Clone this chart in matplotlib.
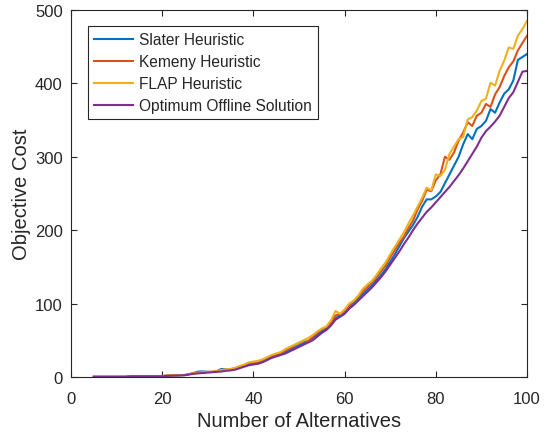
import matplotlib
matplotlib.use("Agg")
import matplotlib.pyplot as plt

plt.rcParams['font.family'] = ['Liberation Sans', 'DejaVu Sans']

alternatives = list(range(5, 101))

optimum = [0.3]*8 + [1.0]*8 + [
    1.5, 1.8, 2.0, 2.2, 2.5,
    3.5, 4.5, 5.0, 5.5, 6.0,
    6.5, 7.0, 7.5, 8.5, 9.0,
    10, 12, 14, 16, 17,
    18, 20, 23, 26, 28,
    30, 32, 35, 38, 41,
    44, 47, 50, 55, 60,
    64, 70, 78, 82, 86,
    93, 98, 104, 110, 116,
    122, 129, 136, 144, 153,
    162, 171, 181, 190, 200,
    209, 217, 225, 231, 238,
    245, 252, 259, 267, 275,
    284, 294, 304, 314, 326,
    335, 341, 348, 356, 368,
    380, 388, 402, 416, 417]

slater = [0.3]*8 + [1.0]*8 + [
    1.8, 2.0, 2.2, 2.4, 2.6,
    4.0, 5.5, 7.5, 7.5, 7.0,
    7.0, 8.0, 11.0, 10.5, 10.0,
    11, 13, 15, 17, 18,
    19, 21, 25, 28, 29,
    31, 34, 37, 40, 43,
    46, 49, 53, 58, 62,
    66, 73, 80, 84, 88,
    95, 101, 107, 113, 119,
    125, 132, 139, 147, 157,
    167, 178, 189, 198, 207,
    218, 232, 242, 242, 246,
    252, 264, 276, 288, 300,
    317, 331, 324, 338, 342,
    349, 365, 360, 374, 386,
    392, 404, 432, 436, 440]

kemeny = [0.3]*8 + [1.2]*8 + [
    2.0, 2.2, 2.4, 2.6, 2.8,
    4.0, 5.0, 6.0, 6.5, 7.0,
    7.0, 8.0, 9.0, 10.0, 10.5,
    12, 14, 16, 19, 20,
    21, 23, 26, 29, 31,
    33, 36, 39, 43, 46,
    49, 48, 55, 60, 65,
    68, 74, 84, 86, 90,
    97, 103, 109, 117, 123,
    129, 136, 144, 152, 163,
    173, 183, 191, 203, 213,
    228, 240, 255, 253, 268,
    276, 300, 296, 306, 322,
    333, 347, 342, 356, 360,
    372, 368, 385, 395, 410,
    422, 430, 445, 455, 465]

flap = [0.3]*8 + [1.2]*8 + [
    2.0, 2.2, 2.4, 2.6, 2.8,
    4.0, 5.0, 6.0, 6.5, 7.0,
    7.0, 8.0, 9.5, 10.5, 11,
    12.5, 15, 17, 20, 21,
    22, 24, 27, 30, 32,
    34, 38, 41, 44, 47,
    50, 53, 57, 62, 66,
    69, 77, 90, 86, 92,
    100, 104, 111, 120, 126,
    131, 139, 148, 156, 167,
    177, 187, 197, 209, 220,
    232, 244, 258, 254, 276,
    274, 282, 304, 314, 324,
    327, 351, 354, 363, 376,
    379, 401, 397, 417, 431,
    449, 447, 465, 474, 485]

series_labels = ['Slater Heuristic', 'Kemeny Heuristic', 'FLAP Heuristic',
                 'Optimum Offline Solution']
colors = ['#0072BD', '#D95319', '#EDB120', '#7E2F8E']
x_ticks = [0, 20, 40, 60, 80, 100]
y_ticks = [0, 100, 200, 300, 400, 500]

W, H = 544, 439
fig = plt.figure(figsize=(W/100, H/100), dpi=100)
ax = fig.add_axes([71/W, 1-378/H, (527-71)/W, (378-11)/H])

for vals, lab, c in zip([slater, kemeny, flap, optimum], series_labels, colors):
    ax.plot(alternatives, vals, color=c, lw=1.5, label=lab)

ax.set_xlim(0, 100)
ax.set_ylim(0, 500)
ax.set_xticks(x_ticks)
ax.set_yticks(y_ticks)
dark = '#262626'
for s in ax.spines.values():
    s.set_color(dark)
    s.set_linewidth(0.8)
ax.tick_params(direction='in', length=4, width=0.8, color=dark, labelcolor=dark,
               labelsize=12, top=True, right=True)
ax.tick_params(axis='x', pad=10)
ax.tick_params(axis='y', pad=6)
ax.set_xlabel('Number of Alternatives', fontsize=14.5, color=dark, labelpad=4)
ax.set_ylabel('Objective Cost', fontsize=14.5, color=dark, labelpad=3)

leg = ax.legend(loc='upper left', bbox_to_anchor=(88/W, 1-27/H),
                bbox_transform=fig.transFigure, borderaxespad=0,
                fontsize=11.2, handlelength=2.5, handletextpad=0.35,
                labelspacing=0.45, borderpad=0.4, fancybox=False,
                framealpha=1)
leg.get_frame().set_edgecolor(dark)
leg.get_frame().set_linewidth(0.8)
for t in leg.get_texts():
    t.set_color(dark)

fig.savefig('out.png', dpi=100)
